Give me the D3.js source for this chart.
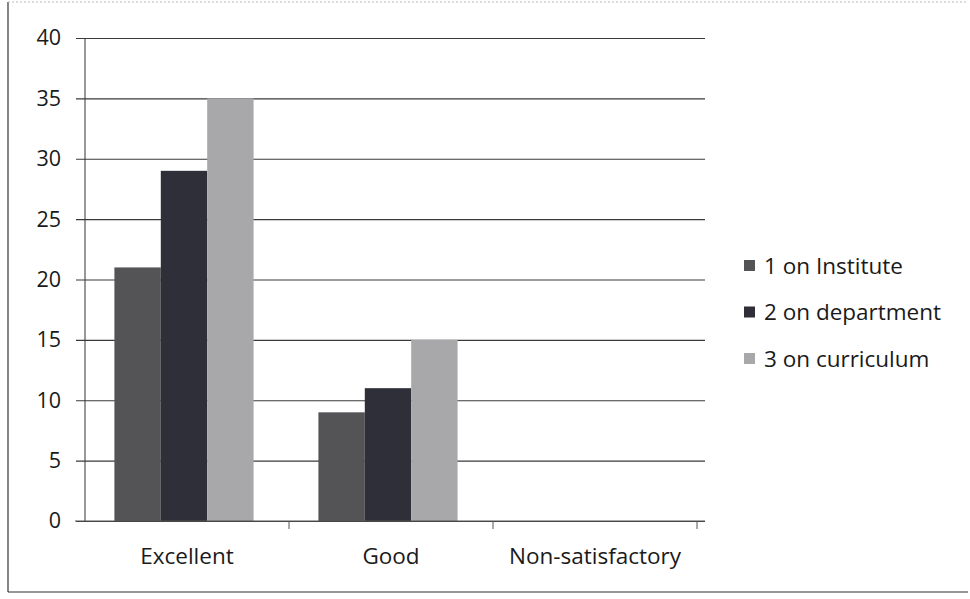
<!DOCTYPE html>
<html><head><meta charset="utf-8">
<script src="https://cdn.jsdelivr.net/npm/d3@7"></script>
<style>body{margin:0;background:#fff}svg{display:block}text{font-family:"Open Sans",sans-serif;fill:#1a1a1a}</style>
</head><body>
<svg id="c" width="970" height="599"></svg>
<script>
const categories = ["Excellent", "Good", "Non-satisfactory"];
const seriesNames = ["1 on Institute", "2 on department", "3 on curriculum"];
const institute = [21, 9, 0];
const department = [29, 11, 0];
const curriculum = [35, 15, 0];
const yTicks = [0, 5, 10, 15, 20, 25, 30, 35, 40];
const colors = ["#545457", "#2f2f39", "#a8a8ab"];

const FONT = "'Open Sans',sans-serif";
const FS = 22.5;
const series = [institute, department, curriculum];
const svg = d3.select("#c");
const W = 970, H = 599;
const m = {left: 85, right: 273, top: 38, bottom: 78};
const x = d3.scaleBand().domain(categories).range([m.left, W - m.right]).paddingInner(0).paddingOuter(0);
const xs = d3.scaleBand().domain(d3.range(series.length)).range([-4, x.bandwidth() - 2]).paddingOuter(0.72).paddingInner(0);
const y = d3.scaleLinear().domain([0, 40]).range([H - m.bottom, m.top]);

// frame
svg.append("line").attr("x1", 8).attr("x2", 8).attr("y1", 2).attr("y2", 592).attr("stroke", "#333").attr("stroke-width", 1.2);
svg.append("line").attr("x1", 8).attr("x2", 968).attr("y1", 592).attr("y2", 592).attr("stroke", "#333").attr("stroke-width", 1.2);
svg.append("line").attr("x1", 8).attr("x2", 968).attr("y1", 2).attr("y2", 2).attr("stroke", "#bbb").attr("stroke-dasharray", "2,2");

// grid
const yAxis = d3.axisLeft(y).tickValues(yTicks).tickSize(-(W - m.right - m.left + 8)).tickPadding(24);
const gy = svg.append("g").attr("transform", `translate(${m.left},0)`).call(yAxis);
gy.select(".domain").attr("stroke", "#333");
gy.selectAll(".tick line").attr("x1", -9).attr("stroke", "#3a3a3a").attr("stroke-width", 1.1);
gy.selectAll(".tick text").attr("font-size", FS - 1).style("font-family", FONT).attr("fill", "#1a1a1a");
gy.select(".domain").attr("d", `M0,${y(0)}V${y(40)}`);

// bars
const g = svg.append("g");
categories.forEach((c, ci) => {
  series.forEach((s, si) => {
    if (s[ci] <= 0) return;
    g.append("rect")
      .attr("x", x(c) + xs(si))
      .attr("width", xs.bandwidth())
      .attr("y", y(s[ci]))
      .attr("height", y(0) - y(s[ci]))
      .attr("fill", colors[si]);
  });
});

// x axis
const xAxis = d3.axisBottom(x).tickSize(0).tickPadding(27);
const gx = svg.append("g").attr("transform", `translate(0,${y(0)})`).call(xAxis);
gx.select(".domain").attr("stroke", "#555").attr("d", `M${m.left - 10},0H${W - m.right + 8}`);
gx.selectAll(".tick text").attr("font-size", FS).style("font-family", FONT).attr("fill", "#1a1a1a");
categories.forEach((c) => {
  const xx = x(c) + x.bandwidth();
  gx.append("line").attr("x1", xx).attr("x2", xx).attr("y1", 0).attr("y2", 8).attr("stroke", "#555");
});

// legend
const lg = svg.append("g").attr("transform", "translate(744,266)");
seriesNames.forEach((n, i) => {
  const row = lg.append("g").attr("transform", `translate(0,${i * 46.5})`);
  row.append("rect").attr("x", 0).attr("y", -6).attr("width", 11).attr("height", 11).attr("fill", colors[i]);
  row.append("text").attr("x", 20).attr("y", 0).attr("dy", "0.35em").attr("font-size", FS).style("font-family", FONT).text(n);
});
</script>
</body></html>
